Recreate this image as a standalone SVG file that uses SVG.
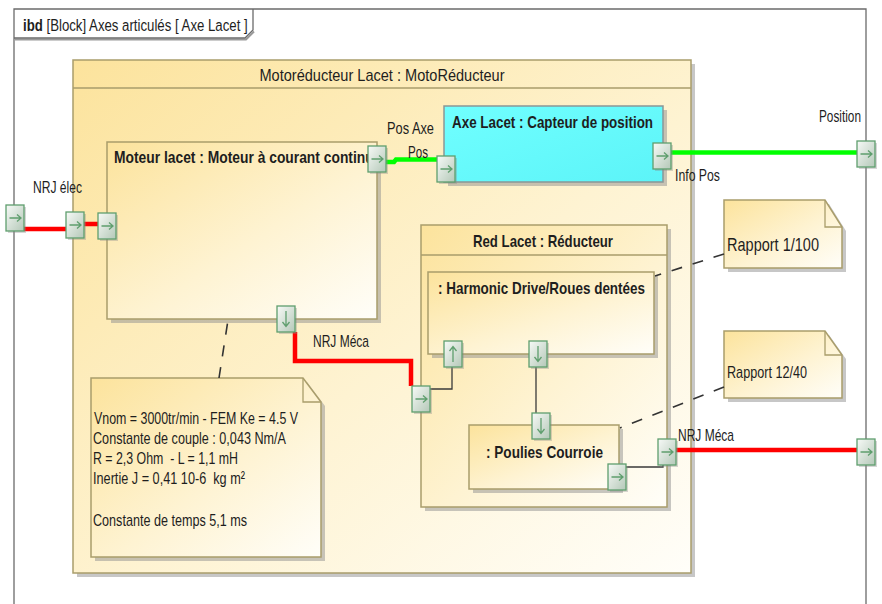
<svg xmlns="http://www.w3.org/2000/svg" width="882" height="604" viewBox="0 0 882 604">
<defs>
<linearGradient id="gY" x1="0" y1="0" x2="1" y2="1">
<stop offset="0" stop-color="#FCE39C"/>
<stop offset="0.55" stop-color="#FEF3D2"/>
<stop offset="1" stop-color="#FFFEF9"/>
</linearGradient>
<linearGradient id="gC" x1="0" y1="0" x2="1" y2="1">
<stop offset="0" stop-color="#70FFFF"/>
<stop offset="1" stop-color="#5CF4F8"/>
</linearGradient>
<linearGradient id="gP" x1="0" y1="0" x2="1" y2="1">
<stop offset="0" stop-color="#F7FAF7"/>
<stop offset="1" stop-color="#B4C8B8"/>
</linearGradient>
<g id="pR"><rect x="2" y="2" width="18" height="26" fill="#8a8a8a" opacity="0.35"/><rect width="18" height="26" fill="url(#gP)" stroke="#5F9E6E" stroke-width="1.3"/><path d="M3.5 13H15M11 9.5L15 13L11 16.5" fill="none" stroke="#5F9E6E" stroke-width="1.3"/></g>
<g id="pD"><rect x="2" y="2" width="18" height="26" fill="#8a8a8a" opacity="0.35"/><rect width="18" height="26" fill="url(#gP)" stroke="#5F9E6E" stroke-width="1.3"/><path d="M9 5V20M5.5 16L9 20.5L12.5 16" fill="none" stroke="#5F9E6E" stroke-width="1.3"/></g>
<g id="pU"><rect x="2" y="2" width="18" height="26" fill="#8a8a8a" opacity="0.35"/><rect width="18" height="26" fill="url(#gP)" stroke="#5F9E6E" stroke-width="1.3"/><path d="M9 21V6M5.5 10L9 5.5L12.5 10" fill="none" stroke="#5F9E6E" stroke-width="1.3"/></g>
</defs>
<style>
text { font-family: "Liberation Sans", Arial, sans-serif; fill: #1e1e1e; }
.lbl { font-size: 17px; }
.ttl { font-size: 17px; font-weight: bold; }
.blk { fill: url(#gY); stroke: #A99D6B; stroke-width: 1.5; }
.shd { fill: #8f8f8f; opacity: 0.5; }
.frame { fill: none; stroke: #6b6b6b; stroke-width: 1.3; }
.red { fill: none; stroke: #FF0000; stroke-width: 4.5; }
.grn { fill: none; stroke: #00FF00; stroke-width: 4.5; }
.thin { fill: none; stroke: #3a3a3a; stroke-width: 1.3; }
.dash { fill: none; stroke: #333333; stroke-width: 1.6; stroke-dasharray: 11 11; }
</style>
<rect width="882" height="604" fill="#FFFFFF"/>

<g id="frame">
<path class="frame" d="M14 604V9H866V604"/>
<path d="M15 39.5H246L254 31.5" fill="none" stroke="#9a9a9a" stroke-width="2"/>
<path class="frame" d="M14 38H245L253 30V9"/>
<text class="lbl" transform="translate(23 31) scale(0.7 1)" x="0" y="0" textLength="321" lengthAdjust="spacingAndGlyphs"><tspan font-weight="bold">ibd</tspan> [Block] Axes articulés [ Axe Lacet ]</text>
</g>

<g id="motoreducteur">
<rect class="shd" x="77" y="64" width="618" height="513"/>
<rect class="blk" x="73" y="60" width="618" height="513"/>
<line x1="73" y1="88" x2="691" y2="88" stroke="#A99D6B" stroke-width="1.5"/>
<text class="lbl" x="382" y="81" text-anchor="middle" textLength="245" lengthAdjust="spacingAndGlyphs">Motoréducteur Lacet : MotoRéducteur</text>
</g>

<g id="moteur">
<rect class="shd" x="111" y="146" width="270" height="177"/>
<rect class="blk" x="107" y="142" width="270" height="177"/>
<text class="ttl" transform="translate(114 163) scale(0.7 1)" x="0" y="0" textLength="371" lengthAdjust="spacingAndGlyphs">Moteur lacet : Moteur à courant continu</text>
</g>

<g id="axe-lacet">
<rect class="shd" x="448" y="110" width="219" height="76"/>
<rect x="444" y="106" width="219" height="76" fill="url(#gC)" stroke="#8a9696" stroke-width="1.5"/>
<text class="ttl" x="452" y="128" textLength="201" lengthAdjust="spacingAndGlyphs">Axe Lacet : Capteur de position</text>
</g>

<g id="red-lacet">
<rect class="shd" x="425" y="229" width="246" height="282"/>
<rect class="blk" x="421" y="225" width="246" height="282"/>
<line x1="421" y1="255" x2="667" y2="255" stroke="#A99D6B" stroke-width="1.5"/>
<text class="ttl" x="543" y="247" text-anchor="middle" textLength="140" lengthAdjust="spacingAndGlyphs">Red Lacet : Réducteur</text>
</g>

<g id="harmonic">
<rect class="shd" x="432" y="276" width="226" height="82"/>
<rect class="blk" x="428" y="272" width="226" height="82"/>
<text class="ttl" x="438" y="294" textLength="207" lengthAdjust="spacingAndGlyphs">: Harmonic Drive/Roues dentées</text>
</g>

<g id="poulies">
<rect class="shd" x="473" y="429" width="150" height="64"/>
<rect class="blk" x="469" y="425" width="150" height="64"/>
<text class="ttl" x="486" y="458" textLength="117" lengthAdjust="spacingAndGlyphs">: Poulies Courroie</text>
</g>

<g id="note-moteur">
<path class="shd" d="M95 382H307L325 406V561H95Z"/>
<path class="blk" d="M91 378H303L321 402V557H91Z"/>
<path d="M303 378V402H321" fill="none" stroke="#A99D6B" stroke-width="1.3"/>
<text class="lbl" x="94" y="424" textLength="204" lengthAdjust="spacingAndGlyphs">Vnom = 3000tr/min - FEM Ke = 4.5 V</text>
<text class="lbl" x="93" y="444" textLength="193" lengthAdjust="spacingAndGlyphs">Constante de couple : 0,043 Nm/A</text>
<text class="lbl" x="93" y="464" xml:space="preserve" textLength="145" lengthAdjust="spacingAndGlyphs">R = 2,3 Ohm  - L = 1,1 mH</text>
<text class="lbl" x="93" y="484" xml:space="preserve" textLength="152" lengthAdjust="spacingAndGlyphs">Inertie J = 0,41 10-6  kg m²</text>
<text class="lbl" x="93" y="526" textLength="154" lengthAdjust="spacingAndGlyphs">Constante de temps 5,1 ms</text>
</g>

<g id="note-rapport-100">
<path class="shd" d="M728 204H829L846 231V272H728Z"/>
<path class="blk" d="M724 200H825L842 227V268H724Z"/>
<path d="M825 200V227H842" fill="none" stroke="#A99D6B" stroke-width="1.3"/>
<text x="727" y="251" font-size="19" textLength="92" lengthAdjust="spacingAndGlyphs">Rapport 1/100</text>
</g>

<g id="note-rapport-1240">
<path class="shd" d="M728 335H829L846 359V402H728Z"/>
<path class="blk" d="M724 331H825L842 355V398H724Z"/>
<path d="M825 331V355H842" fill="none" stroke="#A99D6B" stroke-width="1.3"/>
<text class="lbl" x="727" y="378" textLength="80" lengthAdjust="spacingAndGlyphs">Rapport 12/40</text>
</g>

<g id="connectors">
<path class="red" d="M24 229H66"/>
<path class="red" d="M83 224H98"/>
<path class="grn" d="M386 162H394L396 159.5H437"/>
<path class="grn" d="M671 152.5H857"/>
<path class="red" d="M295 332V361H411V386"/>
<path class="red" d="M675 450H857"/>
<path class="thin" d="M430 389H452V367"/>
<path class="thin" d="M536 367V413"/>
<path class="thin" d="M626 467H663V464"/>
<path class="dash" d="M219 378L228 320"/>
<path class="dash" d="M724 254L655 276"/>
<path class="dash" d="M724 387L620 428"/>
<text class="lbl" x="33" y="193" textLength="49" lengthAdjust="spacingAndGlyphs">NRJ élec</text>
<text class="lbl" x="387" y="134" textLength="47" lengthAdjust="spacingAndGlyphs">Pos Axe</text>
<text class="lbl" x="408" y="158" textLength="20" lengthAdjust="spacingAndGlyphs">Pos</text>
<text class="lbl" x="675" y="181" textLength="45" lengthAdjust="spacingAndGlyphs">Info Pos</text>
<text class="lbl" x="819" y="122" textLength="42" lengthAdjust="spacingAndGlyphs">Position</text>
<text class="lbl" x="313" y="347" textLength="56" lengthAdjust="spacingAndGlyphs">NRJ Méca</text>
<text class="lbl" x="678" y="441" textLength="56" lengthAdjust="spacingAndGlyphs">NRJ Méca</text>
</g>

<g id="ports">
<use href="#pR" x="6" y="205"/>
<use href="#pR" x="66" y="212"/>
<use href="#pR" x="98" y="213"/>
<use href="#pR" x="368" y="146"/>
<use href="#pD" x="277" y="306"/>
<use href="#pR" x="437" y="156"/>
<use href="#pR" x="653" y="143"/>
<use href="#pR" x="857" y="141"/>
<use href="#pR" x="412" y="386"/>
<use href="#pU" x="444" y="341"/>
<use href="#pD" x="529" y="341"/>
<use href="#pD" x="532" y="413"/>
<use href="#pR" x="608" y="464"/>
<use href="#pR" x="658" y="439"/>
<use href="#pR" x="857" y="439"/>
</g>
</svg>
